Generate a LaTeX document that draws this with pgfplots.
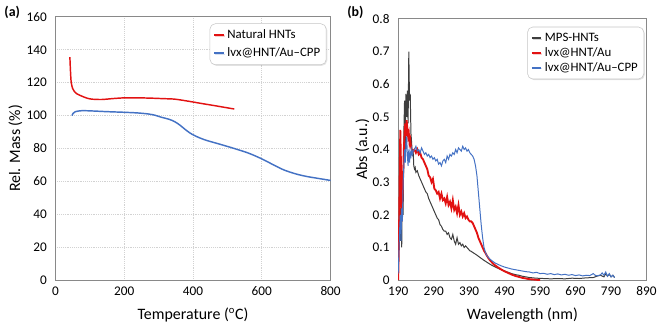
\documentclass[border=0pt]{standalone}
\usepackage{fontspec}
\setmainfont{Carlito}
\usepackage{pgfplots}
\pgfplotsset{compat=1.18}
\usetikzlibrary{shadows}

\definecolor{tgared}{RGB}{226,18,18}
\definecolor{tgablue}{RGB}{68,114,196}
\definecolor{mpsgray}{RGB}{62,62,62}
\definecolor{frame}{RGB}{137,137,137}

\pgfplotsset{
  panel/.style={
    scale only axis,
    anchor=south west,
    axis line style={frame, line width=0.9pt},
    major tick length=0pt,
    tick label style={font=\fontsize{10}{12}\selectfont},
    label style={font=\fontsize{12}{14}\selectfont},
    /pgf/number format/assume math mode=true,
    yticklabel style={xshift=-3pt},
    xticklabel style={yshift=-1.5pt},
    legend cell align=left,
    legend image code/.code={\draw[#1,line width=1.6pt] (0pt,0pt) -- (7pt,0pt);},
    legend style={
      anchor=north east,
      draw=gray!45,
      rounded corners=4pt,
      font=\fontsize{9.7}{11}\selectfont,
      inner sep=2.5pt,
      drop shadow={opacity=0.2, shadow xshift=0.8pt, shadow yshift=-0.8pt},
    },
  },
}

\begin{document}
\begin{tikzpicture}
\path (0pt,0pt) rectangle (495.75pt,-250.5pt);

% (a) TGA
\begin{axis}[
    panel,
    at={(39.75pt,-211.5pt)},
    width=207.75pt, height=198.75pt,
    xmin=0, xmax=800, ymin=0, ymax=160,
    xtick={0,200,400,600,800},
    ytick={0,20,40,60,80,100,120,140,160},
    grid=major,
    major grid style={densely dotted, gray!35, line width=0.6pt},
    xlabel={Temperature (\textsuperscript{o}C)},
    ylabel={Rel. Mass (\%)},
    xlabel style={at={(axis description cs:0.5,-0.132)}, anchor=center},
    ylabel style={at={(axis description cs:-0.145,0.5)}, anchor=center},
    legend style={at={(rel axis cs:0.985,0.975)}, row sep=1.5pt},
]
\addplot[tgared, line width=1.1pt, smooth] coordinates {
  (42,135.5) (44,126) (46,120) (50,116.5) (54,115) (62,113.3) (77,111.8)
  (92,110.6) (106,110) (135,109.8) (170,110.4) (202,110.8) (240,110.8)
  (279,110.6) (315,110.3) (347,110) (385,108.8) (424,107.4) (470,105.8)
  (520,104)
};
\addlegendentry{Natural HNTs}
\addplot[tgablue, line width=1.1pt, smooth] coordinates {
  (48,100) (52,101.5) (58,102.4) (77,103) (110,102.8) (150,102.4)
  (202,102) (240,101.6) (270,101) (290,100.2) (308,99) (330,97.8)
  (347,96.3) (362,94.2) (376,91.8) (390,89.6) (405,87.8) (425,86)
  (443,84.7) (480,82.5) (520,80) (560,77.3) (597,74) (630,70.5)
  (664,67) (700,64.5) (731,63) (765,61.8) (800,60.6)
};
\addlegendentry{lvx@HNT/Au--CPP}
\end{axis}

% (b) UV-Vis
\begin{axis}[
    panel,
    at={(298.5pt,-211.5pt)},
    width=187.5pt, height=197.25pt,
    xmin=190, xmax=890, ymin=0, ymax=0.8,
    xtick={190,290,390,490,590,690,790,890},
    ytick={0,0.1,0.2,0.3,0.4,0.5,0.6,0.7,0.8},
    yticklabel style={/pgf/number format/.cd, fixed, precision=1},
    xlabel={Wavelength (nm)},
    ylabel={Abs (a.u.)},
    xlabel style={at={(axis description cs:0.5,-0.133)}, anchor=center},
    ylabel style={at={(axis description cs:-0.144,0.5)}, anchor=center},
    legend style={at={(rel axis cs:0.99,0.97)}, row sep=-1pt},
]
\addplot[mpsgray, line width=0.75pt] coordinates {
  (190,0.05) (192,0.15) (194,0.22) (196,0.12) (198,0.25) (200,0.10)
  (202,0.30) (204,0.20) (206,0.45) (208,0.55) (210,0.40) (212,0.57)
  (214,0.50) (216,0.58) (218,0.48) (220,0.70) (222,0.55) (224,0.57)
  (226,0.45) (228,0.42) (230,0.38) (232,0.40) (234,0.35) (236,0.34)
  (238,0.345) (240,0.33) (244,0.335) (248,0.32) (252,0.31) (256,0.30)
  (260,0.29) (264,0.28) (268,0.27) (272,0.265) (276,0.25) (280,0.24)
  (284,0.23) (288,0.22) (292,0.21) (296,0.20) (300,0.19) (304,0.185)
  (308,0.17) (312,0.165) (316,0.155) (320,0.15) (324,0.15) (328,0.14)
  (332,0.145) (336,0.13) (340,0.125) (344,0.14) (348,0.12) (352,0.11)
  (356,0.13) (360,0.11) (364,0.115) (368,0.105) (372,0.11) (376,0.10)
  (380,0.105) (384,0.10) (388,0.095) (392,0.09) (396,0.088) (400,0.085)
  (410,0.078) (420,0.07) (430,0.062) (440,0.055) (450,0.048) (460,0.042)
  (470,0.037) (480,0.032) (490,0.028) (500,0.024) (510,0.02) (520,0.017)
  (530,0.015) (540,0.012) (550,0.01) (560,0.008) (570,0.007) (580,0.006)
  (600,0.005) (620,0.004) (640,0.005) (660,0.004) (680,0.006) (700,0.005)
  (720,0.007) (740,0.008) (750,0.012) (760,0.015) (770,0.01) (775,0.02)
  (780,0.012) (785,0.018) (790,0.01) (795,0.015) (800,0.008)
};
\addlegendentry{MPS-HNTs}
\addplot[tgared, line width=1.4pt] coordinates {
  (190,0.0) (192,0.10) (194,0.30) (196,0.46) (198,0.35) (200,0.18)
  (202,0.25) (204,0.32) (206,0.40) (208,0.45) (210,0.48) (212,0.44)
  (214,0.49) (216,0.46) (218,0.44) (220,0.45) (222,0.42) (224,0.43)
  (226,0.41) (228,0.40) (230,0.39) (232,0.395) (236,0.40) (240,0.39)
  (244,0.40) (248,0.385) (252,0.39) (256,0.375) (260,0.37) (264,0.36)
  (268,0.35) (272,0.34) (276,0.32) (280,0.315) (284,0.30) (288,0.31)
  (292,0.28) (296,0.275) (300,0.265) (304,0.27) (308,0.25) (312,0.265)
  (316,0.245) (320,0.25) (324,0.235) (328,0.255) (332,0.23) (336,0.24)
  (340,0.22) (344,0.245) (348,0.215) (352,0.225) (356,0.205) (360,0.23)
  (364,0.20) (368,0.21) (372,0.195) (376,0.205) (380,0.19) (384,0.195)
  (388,0.185) (392,0.18) (396,0.18) (400,0.175) (404,0.165) (408,0.155)
  (412,0.145) (416,0.13) (420,0.12) (424,0.11) (428,0.10) (432,0.09)
  (436,0.083) (440,0.075) (444,0.068) (448,0.062) (452,0.057) (460,0.048)
  (470,0.04) (480,0.033) (490,0.027) (500,0.022) (510,0.017) (520,0.013)
  (530,0.010) (540,0.007) (550,0.005) (560,0.003) (570,0.002) (580,0.001)
  (590,0.0)
};
\addlegendentry{lvx@HNT/Au}
\addplot[tgablue, line width=0.75pt] coordinates {
  (190,0.02) (192,0.08) (194,0.15) (196,0.20) (198,0.12) (200,0.22)
  (202,0.18) (204,0.30) (206,0.35) (208,0.40) (210,0.36) (212,0.42)
  (214,0.44) (216,0.38) (218,0.35) (220,0.40) (222,0.36) (224,0.39)
  (226,0.38) (228,0.40) (230,0.385) (232,0.395) (236,0.40) (240,0.41)
  (244,0.395) (248,0.40) (252,0.39) (256,0.405) (260,0.395) (264,0.385)
  (268,0.39) (272,0.38) (276,0.385) (280,0.375) (284,0.38) (288,0.37)
  (292,0.375) (296,0.365) (300,0.37) (304,0.355) (308,0.36) (312,0.35)
  (316,0.365) (320,0.37) (324,0.36) (328,0.38) (332,0.37) (336,0.385)
  (340,0.38) (344,0.39) (348,0.385) (352,0.40) (356,0.39) (360,0.405)
  (364,0.40) (368,0.395) (372,0.41) (376,0.40) (380,0.405) (384,0.395)
  (388,0.40) (392,0.39) (396,0.385) (400,0.38) (404,0.37) (408,0.35)
  (412,0.32) (416,0.27) (420,0.22) (424,0.17) (428,0.13) (432,0.10)
  (436,0.085) (440,0.075) (448,0.065) (456,0.058) (464,0.052) (472,0.048)
  (480,0.044) (490,0.04) (500,0.037) (510,0.034) (520,0.032) (530,0.03)
  (540,0.028) (550,0.026) (560,0.025) (570,0.022) (580,0.024) (590,0.02)
  (600,0.021) (610,0.018) (620,0.02) (630,0.017) (640,0.019) (650,0.016)
  (660,0.018) (670,0.015) (680,0.017) (690,0.014) (700,0.016) (710,0.013)
  (720,0.015) (730,0.014) (740,0.02) (745,0.015) (750,0.013) (760,0.016)
  (765,0.022) (770,0.015) (775,0.025) (780,0.012) (785,0.02) (790,0.01)
  (795,0.015) (800,0.008)
};
\addlegendentry{lvx@HNT/Au--CPP}
\end{axis}

\node[font=\bfseries\fontsize{10.5}{12}\selectfont] at (7.1pt,-9pt) {(a)};
\node[font=\bfseries\fontsize{10.5}{12}\selectfont] at (266.25pt,-9pt) {(b)};
\end{tikzpicture}
\end{document}
